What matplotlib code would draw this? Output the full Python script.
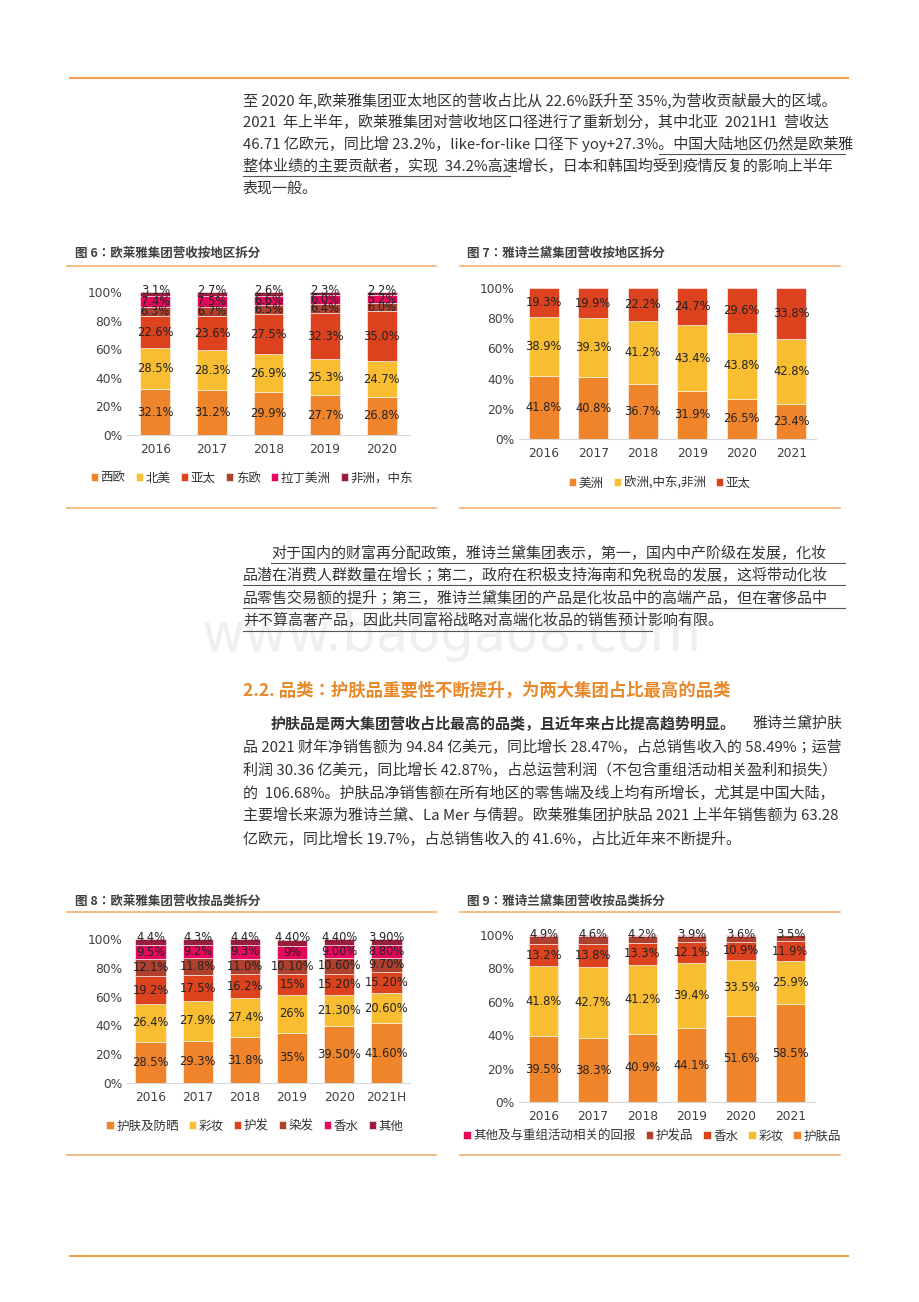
import matplotlib.pyplot as plt
import numpy as np

plt.rcParams['font.family'] = ['Noto Sans CJK JP', 'DejaVu Sans']

W, H = 920, 1302

# ---- data ----
years6 = ['2016', '2017', '2018', '2019', '2020']
series6 = ['西欧', '北美', '亚太', '东欧', '拉丁美洲', '非洲，中东']
xiou = [32.1, 31.2, 29.9, 27.7, 26.8]
beimei = [28.5, 28.3, 26.9, 25.3, 24.7]
yatai6 = [22.6, 23.6, 27.5, 32.3, 35.0]
dongou = [6.3, 6.7, 6.5, 6.4, 6.0]
lamei = [7.4, 7.5, 6.6, 6.0, 5.2]
feizhou = [3.1, 2.7, 2.6, 2.3, 2.2]

years7 = ['2016', '2017', '2018', '2019', '2020', '2021']
series7 = ['美洲', '欧洲,中东,非洲', '亚太']
meizhou = [41.8, 40.8, 36.7, 31.9, 26.5, 23.4]
ouzhou = [38.9, 39.3, 41.2, 43.4, 43.8, 42.8]
yatai7 = [19.3, 19.9, 22.2, 24.7, 29.6, 33.8]

years8 = ['2016', '2017', '2018', '2019', '2020', '2021H']
series8 = ['护肤及防晒', '彩妆', '护发', '染发', '香水', '其他']
hufu8 = [28.5, 29.3, 31.8, 35, 39.5, 41.6]
caizhuang8 = [26.4, 27.9, 27.4, 26, 21.3, 20.6]
hufa8 = [19.2, 17.5, 16.2, 15, 15.2, 15.2]
ranfa8 = [12.1, 11.8, 11.0, 10.1, 10.6, 9.7]
xiangshui8 = [9.5, 9.2, 9.3, 9, 9.0, 8.8]
qita8 = [4.4, 4.3, 4.4, 4.4, 4.4, 3.9]
labels8 = [
    ['28.5%', '29.3%', '31.8%', '35%', '39.50%', '41.60%'],
    ['26.4%', '27.9%', '27.4%', '26%', '21.30%', '20.60%'],
    ['19.2%', '17.5%', '16.2%', '15%', '15.20%', '15.20%'],
    ['12.1%', '11.8%', '11.0%', '10.10%', '10.60%', '9.70%'],
    ['9.5%', '9.2%', '9.3%', '9%', '9.00%', '8.80%'],
    ['4.4%', '4.3%', '4.4%', '4.40%', '4.40%', '3.90%'],
]

years9 = ['2016', '2017', '2018', '2019', '2020', '2021']
series9 = ['护肤品', '彩妆', '香水', '护发品', '其他及与重组活动相关的回报']
hufu9 = [39.5, 38.3, 40.9, 44.1, 51.6, 58.5]
caizhuang9 = [41.8, 42.7, 41.2, 39.4, 33.5, 25.9]
xiangshui9 = [13.2, 13.8, 13.3, 12.1, 10.9, 11.9]
hufa9 = [4.9, 4.6, 4.2, 3.9, 3.6, 3.5]
qita9 = [0.6, 0.6, 0.4, 0.5, 0.4, 0.2]

ORANGE, YELLOW, RED, BROWN, PINK, MAROON = '#F0842A', '#F8BD30', '#DC421E', '#B0402E', '#E5085C', '#9B1D3D'
LINE = '#F0B070'
TXT = '#333333'

fig = plt.figure(figsize=(W / 100, H / 100), dpi=100)


def fx(x):
    return x / W


def fy(y):
    return 1 - y / H


def hline(x0, x1, y, color, lw):
    fig.add_artist(plt.Line2D([fx(x0), fx(x1)], [fy(y), fy(y)], color=color, lw=lw))


def txt(x, y, s, **kw):
    kw.setdefault('fontsize', 10.8)
    kw.setdefault('color', TXT)
    fig.text(fx(x), fy(y), s, va='center', ha=kw.pop('ha', 'left'), **kw)


def stacked(box, cats, data, colors, labels, top_label=True, legend_names=None, legend_y=0, legend_x=0.5,
            legend_order=None, width=0.55):
    x0, x1, ytop, ybot = box
    ax = fig.add_axes([fx(x0), fy(ybot), (x1 - x0) / W, (ybot - ytop) / H])
    x = np.arange(len(cats))
    bottom = np.zeros(len(cats))
    handles = []
    for k, vals in enumerate(data):
        vals = np.array(vals)
        b = ax.bar(x, vals, width, bottom=bottom, color=colors[k], edgecolor='white', linewidth=0.4)
        handles.append(b)
        if labels[k] is not None:
            for i in range(len(cats)):
                yy = bottom[i] + vals[i] / 2
                if top_label and k == len(data) - 1:
                    yy = bottom[i] + vals[i] + 1.2
                ax.text(x[i], yy, labels[k][i], ha='center', va='center', fontsize=8.3, color='#222222',
                        family='DejaVu Sans')
        bottom = bottom + vals
    ax.set_xlim(-0.5, len(cats) - 0.5)
    ax.set_ylim(0, 100)
    ax.set_yticks([0, 20, 40, 60, 80, 100])
    ax.set_yticklabels([f'{v}%' for v in [0, 20, 40, 60, 80, 100]], family='DejaVu Sans')
    ax.set_xticks(x)
    ax.set_xticklabels(cats, family='DejaVu Sans')
    ax.tick_params(length=0, labelsize=8.8, labelcolor='#404040')
    ax.tick_params(axis='x', pad=6)
    for s in ['top', 'right', 'left']:
        ax.spines[s].set_visible(False)
    ax.spines['bottom'].set_color('#D9D9D9')
    order = legend_order if legend_order else range(len(handles))
    fig.legend([handles[i] for i in order], [legend_names[i] for i in order], loc='center',
               bbox_to_anchor=(legend_x, fy(legend_y)), ncol=len(handles), frameon=False, fontsize=9,
               handlelength=0.6, handleheight=0.6, handletextpad=0.2, columnspacing=0.8, labelcolor='#333333')
    return ax


def fmt(v):
    return [f'{a:.1f}%' for a in v]


# ---- page rules ----
hline(70, 848, 78, '#F0A050', 1.5)
hline(70, 848, 1256, '#F0A050', 1.5)

# ---- paragraph 1 ----
p1 = ['至 2020 年,欧莱雅集团亚太地区的营收占比从 22.6%跃升至 35%,为营收贡献最大的区域。',
      '2021  年上半年，欧莱雅集团对营收地区口径进行了重新划分，其中北亚  2021H1  营收达',
      '46.71 亿欧元，同比增 23.2%，like-for-like 口径下 yoy+27.3%。中国大陆地区仍然是欧莱雅',
      '整体业绩的主要贡献者，实现  34.2%高速增长，日本和韩国均受到疫情反复的影响上半年',
      '表现一般。']
for i, s in enumerate(p1):
    txt(243, 100 + i * 22, s)
hline(659, 845, 154, '#555555', 0.8)
hline(243, 510, 176, '#555555', 0.8)

# ---- chart titles ----
txt(75, 253, '图 6：欧莱雅集团营收按地区拆分', fontsize=9, weight='bold', color='#404040')
txt(467, 253, '图 7：雅诗兰黛集团营收按地区拆分', fontsize=9, weight='bold', color='#404040')
for a, b in [(67, 436), (460, 840)]:
    hline(a, b, 266, LINE, 1.2)
    hline(a, b, 508, LINE, 1.2)

stacked((127, 410, 292, 435), years6, [xiou, beimei, yatai6, dongou, lamei, feizhou],
        [ORANGE, YELLOW, RED, BROWN, PINK, MAROON],
        [fmt(xiou), fmt(beimei), fmt(yatai6), fmt(dongou), fmt(lamei), fmt(feizhou)],
        legend_names=series6, legend_y=478, legend_x=fx(252), width=0.53)
stacked((519, 816, 288, 439), years7, [meizhou, ouzhou, yatai7], [ORANGE, YELLOW, RED],
        [fmt(meizhou), fmt(ouzhou), fmt(yatai7)], top_label=False,
        legend_names=series7, legend_y=483, legend_x=fx(660), width=0.6)

# ---- paragraph 2 ----
p2 = ['对于国内的财富再分配政策，雅诗兰黛集团表示，第一，国内中产阶级在发展，化妆',
      '品潜在消费人群数量在增长；第二，政府在积极支持海南和免税岛的发展，这将带动化妆',
      '品零售交易额的提升；第三，雅诗兰黛集团的产品是化妆品中的高端产品，但在奢侈品中',
      '并不算高奢产品，因此共同富裕战略对高端化妆品的销售预计影响有限。']
for i, s in enumerate(p2):
    x0 = 271 if i == 0 else 243
    txt(x0, 553 + i * 22.5, s)
    hline(x0, 845 if i < 3 else 652, 563 + i * 22.5, '#555555', 0.8)
fig.text(fx(452), fy(636), 'www.baogao8.com', fontsize=38, color='#EFEFEF', ha='center', va='center',
         family='DejaVu Sans', zorder=-5)

# ---- heading + paragraph 3 ----
txt(243, 691, '2.2. 品类：护肤品重要性不断提升，为两大集团占比最高的品类', fontsize=12.5, weight='bold',
    color='#E8892B')
p3 = ['品 2021 财年净销售额为 94.84 亿美元，同比增长 28.47%，占总销售收入的 58.49%；运营',
      '利润 30.36 亿美元，同比增长 42.87%，占总运营利润（不包含重组活动相关盈利和损失）',
      '的  106.68%。护肤品净销售额在所有地区的零售端及线上均有所增长，尤其是中国大陆，',
      '主要增长来源为雅诗兰黛、La Mer 与倩碧。欧莱雅集团护肤品 2021 上半年销售额为 63.28',
      '亿欧元，同比增长 19.7%，占总销售收入的 41.6%，占比近年来不断提升。']
txt(271, 724, '护肤品是两大集团营收占比最高的品类，且近年来占比提高趋势明显。', weight='bold')
txt(753, 724, '雅诗兰黛护肤')
for i, s in enumerate(p3):
    txt(243, 747 + i * 23, s)

# ---- charts 8 / 9 ----
txt(75, 901, '图 8：欧莱雅集团营收按品类拆分', fontsize=9, weight='bold', color='#404040')
txt(467, 901, '图 9：雅诗兰黛集团营收按品类拆分', fontsize=9, weight='bold', color='#404040')
hline(67, 436, 912, LINE, 1.2)
hline(460, 840, 912, LINE, 1.2)
hline(67, 436, 1155, LINE, 1.2)
hline(460, 840, 1155, LINE, 1.2)

stacked((127, 410, 939, 1083), years8, [hufu8, caizhuang8, hufa8, ranfa8, xiangshui8, qita8],
        [ORANGE, YELLOW, RED, BROWN, PINK, MAROON], labels8,
        legend_names=series8, legend_y=1126, legend_x=fx(255), width=0.64)
stacked((519, 815, 935, 1102), years9, [hufu9, caizhuang9, xiangshui9, hufa9, qita9],
        [ORANGE, YELLOW, RED, BROWN, PINK],
        [fmt(hufu9), fmt(caizhuang9), fmt(xiangshui9), None, None], top_label=False,
        legend_names=series9, legend_y=1136, legend_x=fx(652), legend_order=[4, 3, 2, 1, 0], width=0.6)
# 护发品 labels sit on the top edge of the bars
ax9 = fig.axes[-1]
for i in range(len(years9)):
    ax9.text(i, 100.5, f'{hufa9[i]:.1f}%', ha='center', va='center', fontsize=8.3, color='#222222',
             family='DejaVu Sans')

fig.savefig('out.png', dpi=100)
